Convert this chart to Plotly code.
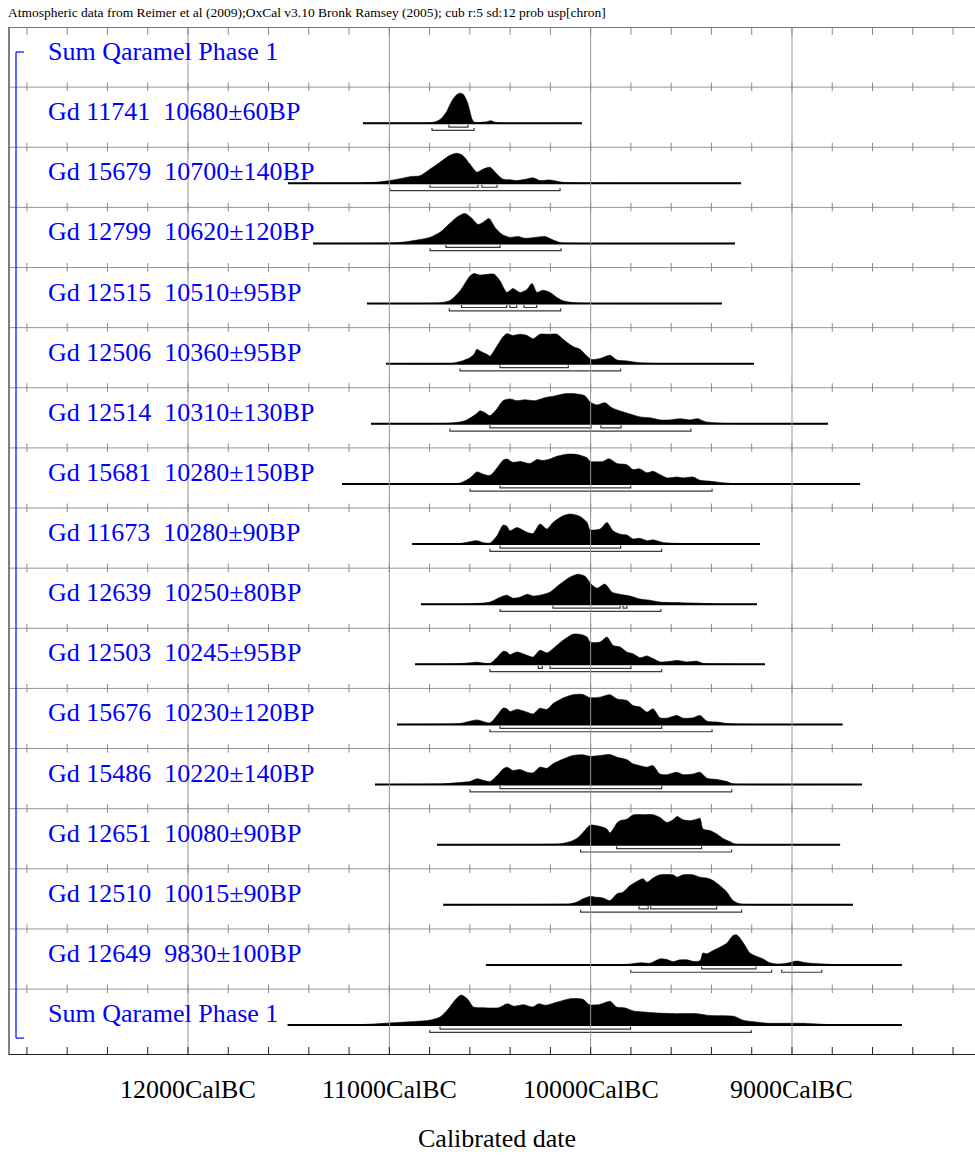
import plotly.graph_objects as go

# ---------------- data (years cal BC, relative probability 0..1) ----------------
labels = ["Sum Qaramel Phase 1",
          "Gd 11741  10680±60BP", "Gd 15679  10700±140BP", "Gd 12799  10620±120BP",
          "Gd 12515  10510±95BP", "Gd 12506  10360±95BP", "Gd 12514  10310±130BP",
          "Gd 15681  10280±150BP", "Gd 11673  10280±90BP", "Gd 12639  10250±80BP",
          "Gd 12503  10245±95BP", "Gd 15676  10230±120BP", "Gd 15486  10220±140BP",
          "Gd 12651  10080±90BP", "Gd 12510  10015±90BP", "Gd 12649  9830±100BP",
          "Sum Qaramel Phase 1"]

tick_labels = ["12000CalBC", "11000CalBC", "10000CalBC", "9000CalBC"]
tick_years = [12000, 11000, 10000, 9000]
minor_years = list(range(12800, 8100, -200))

gd11741_span = [11131, 10043]
gd11741_year = [11131, 10850, 10798, 10770, 10748, 10730, 10714, 10700, 10684, 10665, 10649, 10635, 10624, 10610, 10599, 10590, 10580, 10565, 10540, 10515, 10495, 10475, 10450, 10043]
gd11741_prob = [0, 0, 0.01, 0.05, 0.12, 0.25, 0.40, 0.60, 0.80, 0.95, 1.00, 0.97, 0.87, 0.65, 0.37, 0.15, 0.04, 0.02, 0.03, 0.05, 0.08, 0.03, 0, 0]
gd11741_r68 = [[10704, 10609]]
gd11741_r95 = [[10788, 10579]]

gd15679_span = [11503, 9253]
gd15679_year = [11503, 11146, 11071, 10997, 10947, 10897, 10848, 10798, 10748, 10699, 10664, 10634, 10599, 10565, 10535, 10500, 10465, 10435, 10401, 10366, 10326, 10286, 10252, 10202, 10137, 10053, 9253]
gd15679_prob = [0, 0.01, 0.03, 0.09, 0.15, 0.22, 0.25, 0.47, 0.70, 0.93, 1.00, 0.92, 0.63, 0.37, 0.47, 0.53, 0.30, 0.13, 0.12, 0.09, 0.13, 0.18, 0.09, 0.11, 0.03, 0.01, 0]
gd15679_r68 = [[10798, 10560], [10540, 10465]]
gd15679_r95 = [[10997, 10152]]

gd12799_span = [11379, 9283]
gd12799_year = [11379, 10947, 10848, 10798, 10748, 10699, 10659, 10624, 10589, 10560, 10535, 10505, 10475, 10440, 10401, 10361, 10326, 10277, 10227, 10192, 10152, 10078, 9283]
gd12799_prob = [0, 0.03, 0.13, 0.20, 0.37, 0.67, 0.90, 1.00, 0.83, 0.63, 0.70, 0.83, 0.53, 0.30, 0.20, 0.23, 0.17, 0.20, 0.23, 0.13, 0.03, 0, 0]
gd12799_r68 = [[10719, 10450]]
gd12799_r95 = [[10798, 10147]]

gd12515_span = [11111, 9348]
gd12515_year = [11111, 10748, 10699, 10649, 10599, 10579, 10550, 10500, 10480, 10450, 10416, 10386, 10351, 10316, 10291, 10267, 10237, 10202, 10167, 10137, 10088, 10003, 9348]
gd12515_prob = [0, 0.02, 0.10, 0.42, 0.92, 1.00, 0.95, 0.98, 0.98, 0.75, 0.37, 0.50, 0.37, 0.47, 0.67, 0.37, 0.44, 0.37, 0.20, 0.09, 0.03, 0, 0]
gd12515_r68 = [[10641, 10417], [10401, 10367], [10331, 10268]]
gd12515_r95 = [[10702, 10149]]

gd12506_span = [11016, 9189]
gd12506_year = [11016, 10699, 10649, 10599, 10579, 10565, 10550, 10515, 10500, 10465, 10435, 10416, 10386, 10351, 10316, 10286, 10252, 10217, 10167, 10137, 10088, 10053, 10018, 9998, 9953, 9904, 9869, 9820, 9755, 9656, 9189]
gd12506_prob = [0, 0, 0.07, 0.20, 0.31, 0.48, 0.42, 0.31, 0.25, 0.59, 0.90, 1.00, 0.94, 0.98, 0.94, 0.83, 0.98, 0.98, 0.98, 0.81, 0.57, 0.48, 0.25, 0.14, 0.17, 0.28, 0.12, 0.09, 0.03, 0, 0]
gd12506_r68 = [[10450, 10111]]
gd12506_r95 = [[10649, 9851]]

gd12514_span = [11091, 8821]
gd12514_year = [11091, 10699, 10624, 10574, 10550, 10525, 10500, 10465, 10435, 10401, 10366, 10326, 10277, 10227, 10177, 10128, 10078, 10028, 10003, 9968, 9929, 9894, 9854, 9805, 9755, 9705, 9656, 9606, 9556, 9507, 9467, 9432, 9358, 9258, 8821]
gd12514_prob = [0, 0.02, 0.10, 0.30, 0.43, 0.37, 0.27, 0.50, 0.77, 0.83, 0.77, 0.80, 0.77, 0.87, 0.93, 1.00, 1.00, 0.93, 0.73, 0.63, 0.70, 0.53, 0.43, 0.33, 0.23, 0.20, 0.13, 0.13, 0.17, 0.13, 0.17, 0.07, 0.02, 0, 0]
gd12514_r68 = [[10500, 9998], [9949, 9849]]
gd12514_r95 = [[10699, 9502]]

gd15681_span = [11235, 8662]
gd15681_year = [11235, 10748, 10649, 10599, 10565, 10535, 10500, 10465, 10435, 10416, 10386, 10351, 10301, 10267, 10237, 10202, 10167, 10118, 10068, 10018, 10003, 9968, 9939, 9909, 9869, 9820, 9790, 9755, 9720, 9690, 9656, 9621, 9571, 9541, 9492, 9457, 9407, 9358, 9293, 9209, 8662]
gd15681_prob = [0, 0.01, 0.03, 0.20, 0.40, 0.33, 0.28, 0.53, 0.79, 0.83, 0.72, 0.75, 0.68, 0.81, 0.78, 0.83, 0.92, 0.99, 0.98, 0.87, 0.75, 0.74, 0.75, 0.84, 0.68, 0.64, 0.48, 0.50, 0.37, 0.42, 0.31, 0.20, 0.23, 0.20, 0.23, 0.12, 0.09, 0.05, 0.01, 0, 0]
gd15681_r68 = [[10450, 9801]]
gd15681_r95 = [[10599, 9397]]

gd11673_span = [10887, 9159]
gd11673_year = [10887, 10649, 10565, 10535, 10500, 10465, 10435, 10416, 10401, 10366, 10316, 10286, 10252, 10217, 10187, 10137, 10103, 10053, 10018, 10003, 9953, 9919, 9889, 9854, 9820, 9790, 9755, 9720, 9690, 9641, 9556, 9457, 9159]
gd11673_prob = [0, 0.02, 0.11, 0.05, 0.03, 0.28, 0.63, 0.59, 0.44, 0.55, 0.39, 0.35, 0.67, 0.50, 0.72, 0.94, 1.00, 0.92, 0.72, 0.48, 0.50, 0.72, 0.44, 0.33, 0.30, 0.17, 0.19, 0.11, 0.14, 0.05, 0.02, 0, 0]
gd11673_r68 = [[10450, 9851]]
gd11673_r95 = [[10500, 9647]]

gd12639_span = [10843, 9174]
gd12639_year = [10843, 10599, 10500, 10450, 10416, 10386, 10351, 10316, 10286, 10252, 10202, 10152, 10103, 10063, 10028, 9998, 9968, 9929, 9894, 9854, 9805, 9755, 9705, 9656, 9556, 9457, 9358, 9174]
gd12639_prob = [0, 0.01, 0.07, 0.23, 0.30, 0.20, 0.23, 0.33, 0.27, 0.30, 0.40, 0.67, 0.90, 1.00, 0.93, 0.67, 0.53, 0.67, 0.40, 0.33, 0.27, 0.17, 0.13, 0.07, 0.05, 0.03, 0, 0]
gd12639_r68 = [[10187, 9854], [9839, 9820]]
gd12639_r95 = [[10450, 9651]]

gd12503_span = [10872, 9134]
gd12503_year = [10872, 10649, 10565, 10500, 10465, 10435, 10416, 10401, 10366, 10316, 10286, 10252, 10217, 10187, 10137, 10088, 10053, 10018, 10003, 9953, 9919, 9889, 9854, 9820, 9790, 9755, 9720, 9690, 9656, 9606, 9571, 9521, 9472, 9442, 9358, 9258, 9134]
gd12503_prob = [0, 0.02, 0.07, 0.03, 0.23, 0.43, 0.41, 0.32, 0.41, 0.30, 0.24, 0.47, 0.38, 0.52, 0.80, 1.00, 1.00, 0.91, 0.74, 0.74, 0.91, 0.63, 0.58, 0.41, 0.35, 0.22, 0.28, 0.19, 0.08, 0.10, 0.13, 0.08, 0.10, 0.03, 0.01, 0, 0]
gd12503_r68 = [[10260, 10240], [10202, 9800]]
gd12503_r95 = [[10500, 9647]]

gd15676_span = [10962, 8749]
gd15676_year = [10962, 10748, 10649, 10565, 10500, 10465, 10435, 10416, 10401, 10366, 10316, 10286, 10252, 10217, 10187, 10137, 10088, 10038, 10003, 9953, 9904, 9869, 9820, 9790, 9755, 9720, 9690, 9656, 9621, 9571, 9541, 9492, 9457, 9422, 9372, 9323, 9258, 9159, 8749]
gd15676_prob = [0, 0.01, 0.03, 0.15, 0.05, 0.30, 0.54, 0.52, 0.43, 0.50, 0.41, 0.35, 0.54, 0.50, 0.69, 0.88, 0.99, 1.00, 0.89, 0.91, 0.99, 0.85, 0.80, 0.63, 0.58, 0.41, 0.52, 0.22, 0.21, 0.30, 0.21, 0.22, 0.30, 0.11, 0.08, 0.03, 0.01, 0, 0]
gd15676_r68 = [[10450, 9647]]
gd15676_r95 = [[10500, 9397]]

gd15486_span = [11071, 8652]
gd15486_year = [11071, 10748, 10649, 10599, 10565, 10500, 10465, 10435, 10416, 10386, 10351, 10316, 10286, 10252, 10217, 10187, 10137, 10088, 10038, 10003, 9953, 9904, 9869, 9820, 9790, 9755, 9720, 9690, 9656, 9621, 9571, 9541, 9492, 9457, 9422, 9372, 9323, 9293, 9209, 8652]
gd15486_prob = [0, 0.02, 0.07, 0.10, 0.19, 0.10, 0.30, 0.52, 0.58, 0.47, 0.50, 0.41, 0.39, 0.58, 0.54, 0.69, 0.85, 0.97, 0.99, 0.94, 0.97, 1.00, 0.91, 0.83, 0.69, 0.63, 0.58, 0.63, 0.35, 0.33, 0.41, 0.33, 0.35, 0.41, 0.21, 0.17, 0.10, 0.02, 0, 0]
gd15486_r68 = [[10450, 9647]]
gd15486_r95 = [[10599, 9299]]

gd12651_span = [10763, 8761]
gd12651_year = [10763, 10252, 10152, 10103, 10068, 10038, 10003, 9968, 9939, 9919, 9904, 9869, 9854, 9820, 9790, 9740, 9690, 9656, 9621, 9591, 9571, 9541, 9507, 9472, 9457, 9442, 9407, 9372, 9343, 9308, 9283, 9233, 8761]
gd12651_prob = [0, 0.01, 0.03, 0.10, 0.21, 0.41, 0.65, 0.63, 0.58, 0.52, 0.39, 0.72, 0.80, 0.85, 0.99, 1.00, 1.00, 0.91, 0.74, 0.83, 0.94, 0.83, 0.80, 0.85, 0.88, 0.52, 0.47, 0.35, 0.21, 0.10, 0.02, 0, 0]
gd12651_r68 = [[9871, 9449]]
gd12651_r95 = [[10050, 9300]]

gd12510_span = [10733, 8697]
gd12510_year = [10733, 10152, 10103, 10068, 10038, 10003, 9968, 9939, 9904, 9869, 9839, 9805, 9770, 9740, 9720, 9690, 9656, 9591, 9571, 9541, 9492, 9457, 9422, 9392, 9358, 9323, 9293, 9258, 9209, 9159, 8697]
gd12510_prob = [0, 0.02, 0.03, 0.09, 0.20, 0.28, 0.25, 0.23, 0.14, 0.37, 0.42, 0.64, 0.78, 0.87, 0.75, 0.89, 1.00, 1.00, 0.92, 1.00, 1.00, 0.92, 0.89, 0.81, 0.64, 0.42, 0.14, 0.03, 0.01, 0, 0]
gd12510_r68 = [[9760, 9714], [9702, 9374]]
gd12510_r95 = [[10050, 9250]]

gd12649_span = [10520, 8454]
gd12649_year = [10520, 9854, 9805, 9755, 9705, 9656, 9621, 9591, 9556, 9521, 9492, 9457, 9442, 9422, 9392, 9358, 9323, 9293, 9273, 9243, 9209, 9174, 9144, 9109, 9074, 9025, 8975, 8945, 8911, 8861, 8811, 8712, 8454]
gd12649_prob = [0, 0.01, 0.03, 0.07, 0.06, 0.20, 0.18, 0.11, 0.17, 0.17, 0.12, 0.14, 0.40, 0.37, 0.48, 0.59, 0.73, 0.98, 1.00, 0.75, 0.40, 0.28, 0.20, 0.07, 0.03, 0.06, 0.13, 0.09, 0.06, 0.04, 0.02, 0, 0]
gd12649_r68 = [[9449, 9179]]
gd12649_r95 = [[9801, 9101], [9051, 8852]]

sum_span = [11505, 8454]
sum_year = [11505, 11126, 10999, 10874, 10801, 10748, 10707, 10675, 10644, 10613, 10582, 10540, 10456, 10414, 10383, 10331, 10289, 10258, 10226, 10164, 10101, 10038, 10007, 9954, 9902, 9871, 9829, 9787, 9724, 9662, 9578, 9473, 9411, 9286, 9243, 9160, 9118, 8951, 8826, 8618, 8454]
sum_prob = [0, 0.02, 0.07, 0.12, 0.16, 0.27, 0.54, 0.82, 1.00, 0.88, 0.60, 0.58, 0.58, 0.71, 0.63, 0.68, 0.60, 0.71, 0.66, 0.77, 0.88, 0.86, 0.68, 0.69, 0.79, 0.60, 0.57, 0.47, 0.43, 0.40, 0.38, 0.38, 0.32, 0.29, 0.16, 0.09, 0.06, 0.06, 0.02, 0, 0]
sum_r68 = [[10748, 9802]]
sum_r95 = [[10799, 9202]]

rows = [None,
        (gd11741_span, gd11741_year, gd11741_prob, gd11741_r68, gd11741_r95),
        (gd15679_span, gd15679_year, gd15679_prob, gd15679_r68, gd15679_r95),
        (gd12799_span, gd12799_year, gd12799_prob, gd12799_r68, gd12799_r95),
        (gd12515_span, gd12515_year, gd12515_prob, gd12515_r68, gd12515_r95),
        (gd12506_span, gd12506_year, gd12506_prob, gd12506_r68, gd12506_r95),
        (gd12514_span, gd12514_year, gd12514_prob, gd12514_r68, gd12514_r95),
        (gd15681_span, gd15681_year, gd15681_prob, gd15681_r68, gd15681_r95),
        (gd11673_span, gd11673_year, gd11673_prob, gd11673_r68, gd11673_r95),
        (gd12639_span, gd12639_year, gd12639_prob, gd12639_r68, gd12639_r95),
        (gd12503_span, gd12503_year, gd12503_prob, gd12503_r68, gd12503_r95),
        (gd15676_span, gd15676_year, gd15676_prob, gd15676_r68, gd15676_r95),
        (gd15486_span, gd15486_year, gd15486_prob, gd15486_r68, gd15486_r95),
        (gd12651_span, gd12651_year, gd12651_prob, gd12651_r68, gd12651_r95),
        (gd12510_span, gd12510_year, gd12510_prob, gd12510_r68, gd12510_r95),
        (gd12649_span, gd12649_year, gd12649_prob, gd12649_r68, gd12649_r95),
        (sum_span, sum_year, sum_prob, sum_r68, sum_r95)]

title_text = ("Atmospheric data from Reimer et al (2009);OxCal v3.10 Bronk Ramsey (2005); "
              "cub r:5 sd:12 prob usp[chron]")
axis_title = "Calibrated date"

# ---------------- layout geometry ----------------
W, H = 975, 1155
ML, MR, MT, MB = 9, 0, 27, 100
ROW = 60.13                      # px per row
NROWS_SPAN = (H - MT - MB) / ROW  # y-range in row units
X_RANGE = [12889, 8091]
px = lambda p: p / ROW           # px -> row units
BASE = px(36)
PEAK = px(30)
L68, L95, RTICK = px(40), px(43.3), px(2.5)
FONT = "Liberation Serif"

def paper_x(xpx):
    return (xpx - ML) / (W - ML - MR)

def paper_y(ypx):
    return (H - MB - ypx) / (H - MT - MB)

fig = go.Figure()

# distributions
for i, r in enumerate(rows):
    if r is None:
        continue
    span, yrs, prob, r68, r95 = r
    b = i + BASE
    fig.add_trace(go.Scatter(x=yrs, y=[b - p * PEAK for p in prob], mode="lines",
                             fill="toself", fillcolor="black",
                             line=dict(color="black", width=0.6, shape="spline", smoothing=0.7),
                             hoverinfo="skip", showlegend=False))
    fig.add_trace(go.Scatter(x=span, y=[b, b], mode="lines",
                             line=dict(color="black", width=2), hoverinfo="skip", showlegend=False))
    bx, by = [], []
    for lvl, rng in ((L68, r68), (L95, r95)):
        for a, z in rng:
            yl = i + lvl
            bx += [a, a, z, z, None]
            by += [yl - RTICK, yl, yl, yl - RTICK, None]
    fig.add_trace(go.Scatter(x=bx, y=by, mode="lines", line=dict(color="#3a3a3a", width=1.2),
                             hoverinfo="skip", showlegend=False))

# grid lines (drawn over fills, as in OxCal)
gx, gy = [], []
for t in tick_years:
    gx += [t, t, None]
    gy += [0, NROWS_SPAN, None]
for k in range(1, len(labels)):
    gx += [X_RANGE[0], X_RANGE[1], None]
    gy += [k, k, None]
fig.add_trace(go.Scatter(x=gx, y=gy, mode="lines", line=dict(color="#969696", width=1),
                         hoverinfo="skip", showlegend=False))

# minor tick marks on every row boundary
tx, ty = [], []
for t in minor_years:
    tx += [t, t, None]
    ty += [0, px(8), None]
    for k in range(1, len(labels)):
        tx += [t, t, None]
        ty += [k - px(4.5), k + px(4), None]
fig.add_trace(go.Scatter(x=tx, y=ty, mode="lines", line=dict(color="#8a8a8a", width=1),
                         hoverinfo="skip", showlegend=False))
bx, by = [], []
for t in minor_years:
    bx += [t, t, None]
    by += [NROWS_SPAN, NROWS_SPAN - px(8), None]
fig.add_trace(go.Scatter(x=bx, y=by, mode="lines", line=dict(color="#222222", width=1),
                         hoverinfo="skip", showlegend=False))

shapes = [
    dict(type="line", xref="paper", yref="y", x0=0, x1=1, y0=0, y1=0, line=dict(color="#7a7a7a", width=2)),
    dict(type="line", xref="paper", yref="y", x0=0, x1=0, y0=0, y1=NROWS_SPAN, line=dict(color="#555555", width=1.5)),
    dict(type="line", xref="paper", yref="y", x0=0, x1=1, y0=NROWS_SPAN, y1=NROWS_SPAN, line=dict(color="#222222", width=2)),
    # blue group bracket
    dict(type="line", xref="paper", yref="y", x0=paper_x(16), x1=paper_x(16), y0=px(25), y1=16 + px(49),
         line=dict(color="#0000ff", width=1.2)),
    dict(type="line", xref="paper", yref="y", x0=paper_x(16), x1=paper_x(24), y0=px(25), y1=px(25),
         line=dict(color="#0000ff", width=1.2)),
    dict(type="line", xref="paper", yref="y", x0=paper_x(16), x1=paper_x(24), y0=16 + px(49), y1=16 + px(49),
         line=dict(color="#0000ff", width=1.2)),
]

ann = []
for i, lab in enumerate(labels):
    ann.append(dict(text=lab.replace("  ", "\u00a0\u00a0"), xref="paper", yref="y", x=paper_x(46), y=i + px(24.5),
                    xanchor="left", yanchor="middle", showarrow=False,
                    font=dict(family=FONT, size=26, color="#0000ff")))
for t, lab in zip(tick_years, tick_labels):
    ann.append(dict(text=lab, xref="x", yref="paper", x=t, y=paper_y(1089), xanchor="center", yanchor="middle",
                    showarrow=False, font=dict(family=FONT, size=26, color="black")))
ann.append(dict(text=axis_title, xref="paper", yref="paper", x=paper_x(497), y=paper_y(1138),
                xanchor="center", yanchor="middle", showarrow=False,
                font=dict(family=FONT, size=26, color="black")))
ann.append(dict(text=title_text, xref="paper", yref="paper", x=paper_x(6), y=paper_y(12),
                xanchor="left", yanchor="middle", showarrow=False,
                font=dict(family=FONT, size=13.5, color="black")))

fig.update_layout(
    width=W, height=H, margin=dict(l=ML, r=MR, t=MT, b=MB, autoexpand=False),
    paper_bgcolor="white", plot_bgcolor="white",
    xaxis=dict(range=X_RANGE, showgrid=False, zeroline=False, showticklabels=False, ticks="", showline=False),
    yaxis=dict(range=[NROWS_SPAN, 0], showgrid=False, zeroline=False, showticklabels=False, ticks="", showline=False),
    shapes=shapes, annotations=ann, showlegend=False,
)
fig.write_html("out.html")
